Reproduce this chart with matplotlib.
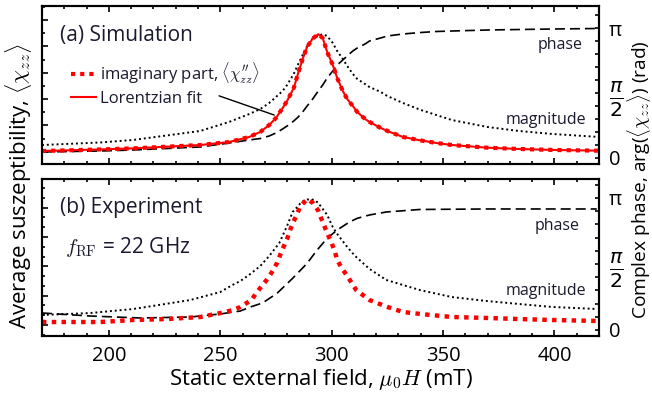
import numpy as np
import matplotlib
matplotlib.use('Agg')
import matplotlib.pyplot as plt
from matplotlib.ticker import AutoMinorLocator, MultipleLocator, FixedLocator

plt.rcParams['font.family'] = ['Open Sans', 'DejaVu Sans']
plt.rcParams['mathtext.fontset'] = 'cm'

# ---- (a) simulation, field in mT ----
H_sim = [170, 196, 211, 241, 254, 263, 268, 272, 275, 278,
         280, 283, 285, 287, 289, 291.5, 294, 296, 298, 300.5,
         302.5, 305, 307, 309.5, 311.5, 315, 317, 322, 325, 332,
         340, 347, 354, 370, 384, 399, 420]
imag_sim = [0.082, 0.092, 0.099, 0.120, 0.139, 0.171, 0.203, 0.247, 0.291, 0.354,
            0.399, 0.481, 0.576, 0.665, 0.741, 0.794, 0.821, 0.797, 0.709, 0.627,
            0.544, 0.462, 0.411, 0.367, 0.329, 0.285, 0.266, 0.228, 0.209, 0.171,
            0.149, 0.133, 0.120, 0.103, 0.095, 0.089, 0.084]
fit_sim = list(imag_sim)  # fit lies on top of the data
mag_sim = [0.120, 0.136, 0.152, 0.209, 0.266, 0.316, 0.348, 0.386, 0.424, 0.462,
           0.500, 0.570, 0.633, 0.690, 0.747, 0.794, 0.813, 0.821, 0.810, 0.766,
           0.715, 0.665, 0.620, 0.570, 0.538, 0.506, 0.487, 0.456, 0.430, 0.386,
           0.342, 0.310, 0.278, 0.234, 0.209, 0.190, 0.171]
phase_sim = [0.145, 0.169, 0.193, 0.266, 0.362, 0.435, 0.471, 0.532, 0.604, 0.701,
             0.773, 0.894, 0.991, 1.112, 1.257, 1.426, 1.619, 1.764, 1.933, 2.102,
             2.247, 2.368, 2.465, 2.586, 2.658, 2.755, 2.827, 2.900, 2.948, 2.997,
             3.033, 3.057, 3.069, 3.093, 3.105, 3.117, 3.130]

# ---- (b) experiment ----
H_exp = [170, 196, 211, 226, 241, 250, 256, 259, 264, 266.5,
         269, 271.5, 273.5, 275.5, 277, 278.5, 280, 281.2, 282.6, 284.5,
         286, 289, 291.5, 294, 295.5, 298, 300, 301.5, 302.5, 304.5,
         307, 309, 311, 317, 325, 332, 340, 354, 370, 384,
         399, 419]
imag_exp = [0.089, 0.089, 0.102, 0.108, 0.121, 0.146, 0.166, 0.185, 0.229, 0.280,
            0.325, 0.369, 0.414, 0.465, 0.520, 0.570, 0.618, 0.669, 0.720, 0.777,
            0.828, 0.871, 0.849, 0.798, 0.743, 0.656, 0.592, 0.535, 0.484, 0.433,
            0.382, 0.338, 0.293, 0.229, 0.185, 0.153, 0.140, 0.121, 0.115, 0.108,
            0.102, 0.096]
H_mag_exp = [170, 191.5, 211, 236.5, 250, 255.5, 259, 263.5, 268, 272,
             276.5, 280, 282.5, 285, 286.5, 289, 291, 293, 294.5, 298,
             300.5, 302.5, 307, 310.5, 317, 324.5, 339.5, 354, 369.5, 384,
             399, 419]
mag_exp = [0.134, 0.146, 0.172, 0.229, 0.280, 0.325, 0.350, 0.395, 0.446, 0.510,
           0.592, 0.701, 0.790, 0.828, 0.854, 0.869, 0.871, 0.860, 0.838, 0.771,
           0.694, 0.650, 0.567, 0.510, 0.427, 0.357, 0.293, 0.248, 0.223, 0.204,
           0.185, 0.172]
H_ph_exp = [170, 191.5, 214, 236.5, 250, 259, 263.5, 269, 275.5, 282.5,
            289, 293.5, 298, 302.5, 308, 311.5, 317, 324.5, 339.5, 369.5, 419]
phase_exp = [0.405, 0.333, 0.286, 0.309, 0.381, 0.452, 0.547, 0.643, 0.873, 1.230,
             1.587, 1.904, 2.182, 2.380, 2.570, 2.658, 2.737, 2.808, 2.868, 2.880, 2.880]

RED = '#ff0000'
TXT = '#1a1a2e'
dot_red = (0, (1.0, 1.2))
dash_blk = (0, (6, 3))
dot_blk = (0, (1, 1.5))
tick_fs = 14.5

fig = plt.figure(figsize=(6.52, 3.94), dpi=100)
ax1 = fig.add_axes([0.0644, 0.5838, 0.8543, 0.401])
ax2 = fig.add_axes([0.0644, 0.1472, 0.8543, 0.3985])


def style(ax, axp, left_ticks, left_minor, show_x):
    ax.set_xlim(170, 420)
    ax.set_ylim(0, 1)
    ax.xaxis.set_major_locator(MultipleLocator(50))
    ax.xaxis.set_minor_locator(MultipleLocator(10))
    ax.yaxis.set_major_locator(FixedLocator(left_ticks))
    ax.yaxis.set_minor_locator(AutoMinorLocator(left_minor))
    ax.tick_params(which='both', direction='in', top=True, width=1.2,
                   labelsize=tick_fs, pad=7)
    ax.tick_params(which='major', length=4)
    ax.tick_params(which='minor', length=2.5)
    ax.tick_params(axis='y', labelleft=False)
    if not show_x:
        ax.tick_params(axis='x', labelbottom=False)
    axp.yaxis.set_major_locator(FixedLocator([0, np.pi / 2, np.pi]))
    axp.yaxis.set_minor_locator(MultipleLocator(np.pi / 10))
    axp.tick_params(which='both', direction='in', width=1.2, labelsize=tick_fs, pad=7)
    axp.tick_params(which='major', length=3)
    axp.tick_params(which='minor', length=3)
    axp.set_yticklabels(['0', r'$\frac{\pi}{2}$', 'π'])
    axp.get_yticklabels()[1].set_math_fontfamily('dejavusans')
    axp.get_yticklabels()[1].set_fontsize(21)
    for a in (ax, axp):
        for s in a.spines.values():
            s.set_linewidth(1.5)
    ax.set_zorder(axp.get_zorder() + 1)
    ax.patch.set_visible(False)


# top panel
axp1 = ax1.twinx()
axp1.plot(H_sim, phase_sim, color='k', ls=dash_blk, lw=1.2)
axp1.set_ylim(-0.145, np.pi + 0.532)
ax1.plot(H_sim, mag_sim, color='k', ls=dot_blk, lw=1.4)
l_imag, = ax1.plot(H_sim, imag_sim, color=RED, ls=dot_red, lw=3.0,
                   label=r'imaginary part, $\langle\chi^{\prime\prime}_{zz}\rangle$')
l_fit, = ax1.plot(H_sim, fit_sim, color=RED, lw=1.5, label='Lorentzian fit')
ax1.annotate('', xy=(275.4, 0.304), xytext=(248.3, 0.437),
             arrowprops=dict(arrowstyle='-', color='k', lw=1.0))
style(ax1, axp1, np.arange(0.078, 1.0, 0.1665), 2, False)
ax1.text(0.032, 0.778, '(a) Simulation', transform=ax1.transAxes, fontsize=15,
         va='baseline', color=TXT)
ax1.text(0.930, 0.753, 'phase', transform=ax1.transAxes, fontsize=11.5,
         ha='center', va='center', color=TXT)
ax1.text(0.905, 0.278, 'magnitude', transform=ax1.transAxes, fontsize=11.5,
         ha='center', va='center', color=TXT)
ax1.legend(handles=[l_imag, l_fit], loc='upper left', bbox_to_anchor=(0.052, 0.655),
           frameon=False, fontsize=12, handlelength=1.5, handletextpad=0.25,
           borderaxespad=0, borderpad=0, labelspacing=0.3, labelcolor=TXT)

# bottom panel
axp2 = ax2.twinx()
axp2.plot(H_ph_exp, phase_exp, color='k', ls=dash_blk, lw=1.2)
axp2.set_ylim(-0.143, np.pi + 0.452)
ax2.plot(H_mag_exp, mag_exp, color='k', ls=dot_blk, lw=1.4)
ax2.plot(H_exp, imag_exp, color=RED, ls=dot_red, lw=3.2)
style(ax2, axp2, np.arange(0.070, 1.01, 0.187), 3, True)
ax2.text(0.032, 0.783, '(b) Experiment', transform=ax2.transAxes, fontsize=15,
         va='baseline', color=TXT)
ax2.text(0.041, 0.529, r'$f_{\rm RF}$ = 22 GHz', transform=ax2.transAxes, fontsize=15,
         va='baseline', color=TXT)
ax2.text(0.925, 0.701, 'phase', transform=ax2.transAxes, fontsize=11.5,
         ha='center', va='center', color=TXT)
ax2.text(0.905, 0.287, 'magnitude', transform=ax2.transAxes, fontsize=11.5,
         ha='center', va='center', color=TXT)
ax2.set_xlabel(r'Static external field, $\mu_0H$ (mT)', fontsize=16, labelpad=1)

fig.text(0.028, 0.528, r'Average suszeptibility, $\langle\chi_{zz}\rangle$',
         rotation=90, ha='center', va='center', fontsize=16)
fig.text(0.980, 0.545, r'Complex phase, arg($\langle\chi_{zz}\rangle$) (rad)',
         rotation=90, ha='center', va='center', fontsize=13.8)

fig.savefig('out.png', dpi=100)
